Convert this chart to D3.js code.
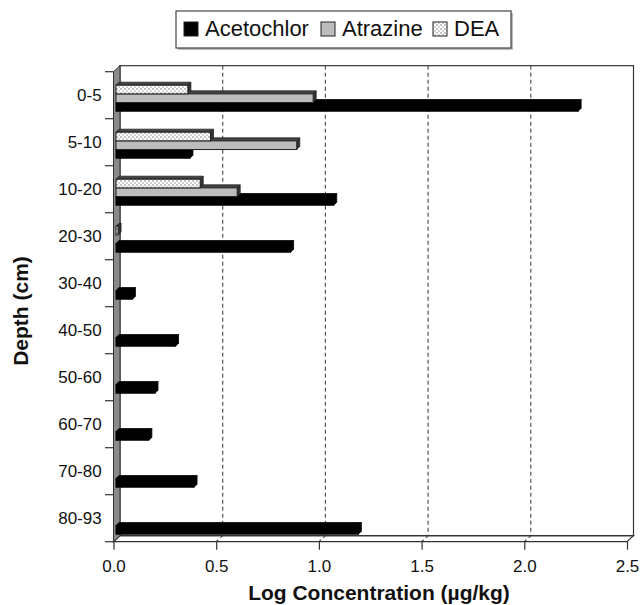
<!DOCTYPE html>
<html>
<head>
<meta charset="utf-8">
<script src="https://d3js.org/d3.v7.min.js"></script>
<style>
  body { margin: 0; background: #fff; }
  text { font-family: "Liberation Sans", Arial, sans-serif; fill: #111; }
</style>
</head>
<body>
<div id="chart"></div>
<script>
// Data =============================================================
var depths = ['0-5', '5-10', '10-20', '20-30', '30-40', '40-50', '50-60', '60-70', '70-80', '80-93'];
var acetochlor = [2.25, 0.36, 1.06, 0.85, 0.08, 0.29, 0.19, 0.16, 0.38, 1.18];
var atrazine = [0.96, 0.88, 0.59, null, null, null, null, null, null, null];
var dea = [0.35, 0.46, 0.41, 0.01, null, null, null, null, null, null];
var seriesNames = ['Acetochlor', 'Atrazine', 'DEA'];
var xTicks = [0, 0.5, 1.0, 1.5, 2.0, 2.5];

var W = 642, H = 605;
var DX = 6.5, DY = -6;   // depth of the 3-D box
var BD = 3;              // depth of each bar

var svg = d3.select('#chart').append('svg')
	.attr('width', W)
	.attr('height', H);

var defs = svg.append('defs');
var pat = defs.append('pattern')
	.attr('id', 'dots')
	.attr('patternUnits', 'userSpaceOnUse')
	.attr('width', 4)
	.attr('height', 4);
pat.append('rect').attr('width', 4).attr('height', 4).attr('fill', '#fff');
pat.append('circle').attr('cx', 1).attr('cy', 1).attr('r', 0.8).attr('fill', '#777');
pat.append('circle').attr('cx', 3).attr('cy', 3).attr('r', 0.8).attr('fill', '#999');

// Scales
var x = d3.scaleLinear().domain([0, 2.5]).range([113.5, 627]);
var xBar = d3.scaleLinear().domain([0, 2.5]).range([116, 629.5]);
var y = d3.scaleBand().domain(depths).range([71.7, 541.7]).padding(0);
var sub = d3.scaleBand().domain(['DEA', 'Atrazine', 'Acetochlor']).range([13.5, 39.5]);

var x0 = x.range()[0], x1 = x.range()[1];
var yTop = y.range()[0], yBot = y.range()[1];

// Back wall
svg.append('rect')
	.attr('x', x0 + DX).attr('y', yTop + DY)
	.attr('width', x1 - x0).attr('height', yBot - yTop)
	.attr('fill', '#fff')
	.attr('stroke', '#333')
	.attr('stroke-width', 1.2);

// Gridlines on the wall and floor
xTicks.slice(1, -1).forEach(function (t) {
	svg.append('path')
		.attr('d', 'M' + (x(t) + DX) + ',' + (yTop + DY) + 'V' + (yBot + DY) + 'L' + x(t) + ',' + yBot)
		.attr('fill', 'none')
		.attr('stroke', '#555')
		.attr('stroke-width', 1.2)
		.attr('stroke-dasharray', '4,3');
});

// Floor
svg.append('path')
	.attr('d', 'M' + x0 + ',' + yBot + 'L' + (x0 + DX) + ',' + (yBot + DY) + 'H' + (x1 + DX) + 'L' + x1 + ',' + yBot + 'Z')
	.attr('fill', 'none')
	.attr('stroke', '#333')
	.attr('stroke-width', 1.2);

// Left wall
svg.append('path')
	.attr('d', 'M' + x0 + ',' + yTop + 'L' + (x0 + DX) + ',' + (yTop + DY) + 'V' + (yBot + DY) + 'L' + x0 + ',' + yBot + 'Z')
	.attr('fill', '#8a8a8a')
	.attr('stroke', '#333')
	.attr('stroke-width', 1);

// Bars
var rows = [];
depths.forEach(function (d, i) {
	rows.push({ depth: d, name: 'Acetochlor', v: acetochlor[i], fill: '#000', top: '#000', side: '#000', stroke: '#000' });
	rows.push({ depth: d, name: 'Atrazine', v: atrazine[i], fill: '#bdbdbd', top: '#444', side: '#333', stroke: '#222' });
	rows.push({ depth: d, name: 'DEA', v: dea[i], fill: 'url(#dots)', top: '#444', side: '#333', stroke: '#222' });
});

rows.filter(function (r) { return r.v != null; }).forEach(function (r) {
	var bx0 = xBar(0), bx1 = xBar(r.v);
	var by = y(r.depth) + sub(r.name), bh = sub.bandwidth();
	var g = svg.append('g').attr('class', 'bar');
	g.append('path')
		.attr('d', 'M' + bx0 + ',' + by + 'l' + BD + ',' + (-BD) + 'H' + (bx1 + BD) + 'L' + bx1 + ',' + by + 'Z')
		.attr('fill', r.top).attr('stroke', r.stroke).attr('stroke-width', 0.8);
	g.append('path')
		.attr('d', 'M' + bx1 + ',' + by + 'l' + BD + ',' + (-BD) + 'v' + bh + 'l' + (-BD) + ',' + BD + 'Z')
		.attr('fill', r.side).attr('stroke', r.stroke).attr('stroke-width', 0.8);
	g.append('rect')
		.attr('x', bx0).attr('y', by)
		.attr('width', Math.max(bx1 - bx0, 0.5)).attr('height', bh)
		.attr('fill', r.fill).attr('stroke', r.stroke).attr('stroke-width', 1);
});

// Left axis ticks and labels
var yEdges = depths.map(function (d) { return y(d); }).concat([yBot]);
svg.selectAll('.ytick').data(yEdges).enter().append('line')
	.attr('class', 'ytick')
	.attr('x1', 105).attr('x2', x0)
	.attr('y1', function (d) { return d; }).attr('y2', function (d) { return d; })
	.attr('stroke', '#333').attr('stroke-width', 1.2);

svg.selectAll('.ylab').data(depths).enter().append('text')
	.attr('class', 'ylab')
	.attr('x', 101.7)
	.attr('y', function (d) { return y(d) + y.bandwidth() / 2 + 6; })
	.attr('text-anchor', 'end')
	.style('font-size', '17px')
	.text(function (d) { return d; });

// Bottom axis
var xAxis = d3.axisBottom(x)
	.tickValues(xTicks)
	.tickFormat(d3.format('.1f'))
	.tickSize(8)
	.tickPadding(10);
var ax = svg.append('g').attr('transform', 'translate(0,' + yBot + ')').call(xAxis);
ax.select('.domain').remove();
ax.selectAll('line').attr('stroke', '#333').attr('stroke-width', 1.2);
ax.selectAll('text').style('font-size', '17px').style('font-family', '"Liberation Sans", Arial, sans-serif').attr('fill', '#111');

// Axis titles
svg.append('text')
	.attr('x', 379).attr('y', 600)
	.attr('text-anchor', 'middle')
	.style('font-size', '21px').style('font-weight', 'bold')
	.text('Log Concentration (µg/kg)');

svg.append('text')
	.attr('transform', 'translate(28,311) rotate(-90)')
	.attr('text-anchor', 'middle')
	.style('font-size', '21px').style('font-weight', 'bold')
	.text('Depth (cm)');

// Legend
var legend = svg.append('g').attr('class', 'legend');
legend.append('rect')
	.attr('x', 178).attr('y', 13).attr('width', 335).attr('height', 37)
	.attr('fill', '#bbb');
legend.append('rect')
	.attr('x', 176).attr('y', 11).attr('width', 335).attr('height', 37)
	.attr('fill', '#fff').attr('stroke', '#444').attr('stroke-width', 1.2);

var legendX = [184, 321, 433];
var legendFill = ['#000', '#bdbdbd', 'url(#dots)'];
seriesNames.forEach(function (name, i) {
	legend.append('rect')
		.attr('x', legendX[i]).attr('y', 22).attr('width', 14).attr('height', 14)
		.attr('fill', legendFill[i]).attr('stroke', '#222').attr('stroke-width', 1);
	legend.append('text')
		.attr('x', legendX[i] + 21).attr('y', 36)
		.style('font-size', '22px')
		.text(name);
});
</script>
</body>
</html>
